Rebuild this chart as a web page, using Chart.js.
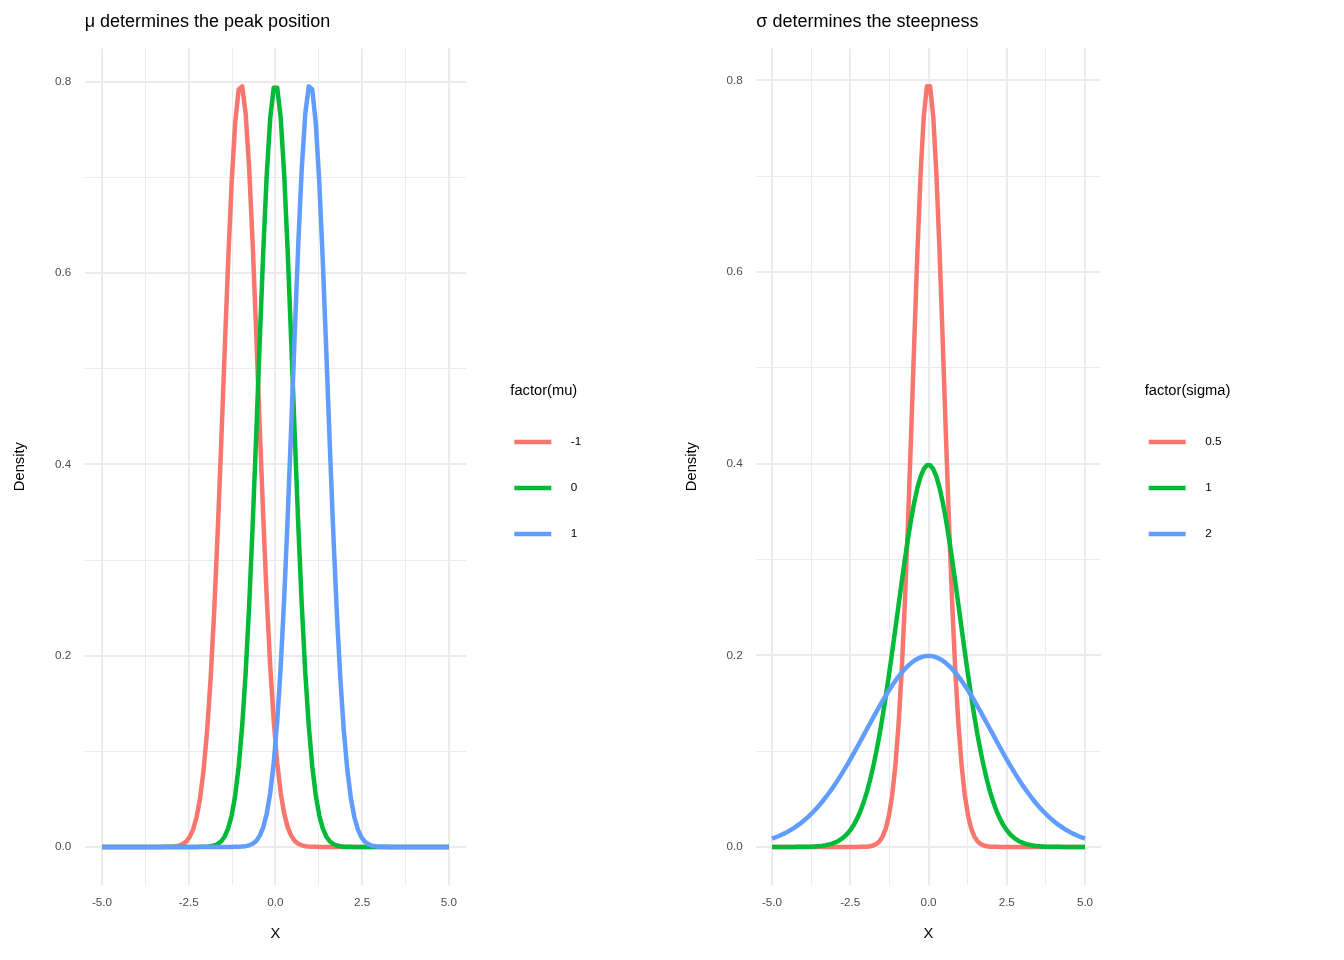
<!DOCTYPE html>
<html>
<head>
<meta charset="utf-8">
<script src="https://cdn.jsdelivr.net/npm/chart.js@4"></script>
<style>
  html, body { margin: 0; padding: 0; background: #fff; }
  .panel { position: absolute; top: 0; width: 672px; height: 960px; }
  #leftPanel { left: 0; }
  #rightPanel { left: 672px; }
</style>
</head>
<body>
<div class="panel" id="leftPanel"><canvas id="muChart" width="672" height="960"></canvas></div>
<div class="panel" id="rightPanel"><canvas id="sigmaChart" width="672" height="960"></canvas></div>
<script>
// x grid shared by every curve (100 points from -5 to 5)
const xs = [
  -5.0000, -4.8990, -4.7980, -4.6970, -4.5960, -4.4949, -4.3939, -4.2929, -4.1919, -4.0909,
  -3.9899, -3.8889, -3.7879, -3.6869, -3.5859, -3.4848, -3.3838, -3.2828, -3.1818, -3.0808,
  -2.9798, -2.8788, -2.7778, -2.6768, -2.5758, -2.4747, -2.3737, -2.2727, -2.1717, -2.0707,
  -1.9697, -1.8687, -1.7677, -1.6667, -1.5657, -1.4646, -1.3636, -1.2626, -1.1616, -1.0606,
  -0.9596, -0.8586, -0.7576, -0.6566, -0.5556, -0.4545, -0.3535, -0.2525, -0.1515, -0.0505,
  0.0505, 0.1515, 0.2525, 0.3535, 0.4545, 0.5556, 0.6566, 0.7576, 0.8586, 0.9596,
  1.0606, 1.1616, 1.2626, 1.3636, 1.4646, 1.5657, 1.6667, 1.7677, 1.8687, 1.9697,
  2.0707, 2.1717, 2.2727, 2.3737, 2.4747, 2.5758, 2.6768, 2.7778, 2.8788, 2.9798,
  3.0808, 3.1818, 3.2828, 3.3838, 3.4848, 3.5859, 3.6869, 3.7879, 3.8889, 3.9899,
  4.0909, 4.1919, 4.2929, 4.3939, 4.4949, 4.5960, 4.6970, 4.7980, 4.8990, 5.0000
];

// left panel: sigma = 0.5, mu = -1 / 0 / 1
const muLabels = ["-1", "0", "1"];
const muMinus1 = [
  0, 0, 0, 0, 0, 0, 0, 0, 0, 0,
  0, 0, 0, 0, 0, 0, 0, 0, 0.0001, 0.0001,
  0.0003, 0.0007, 0.0014, 0.0029, 0.0056, 0.0103, 0.0183, 0.0313, 0.0512, 0.0806,
  0.1217, 0.1764, 0.2455, 0.3280, 0.4207, 0.5182, 0.6125, 0.6951, 0.7573, 0.7920,
  0.7953, 0.7666, 0.7094, 0.6302, 0.5375, 0.4400, 0.3459, 0.2610, 0.1890, 0.1315,
  0.0878, 0.0563, 0.0346, 0.0204, 0.0116, 0.0063, 0.0033, 0.0017, 0.0008, 0.0004,
  0.0002, 0.0001, 0, 0, 0, 0, 0, 0, 0, 0,
  0, 0, 0, 0, 0, 0, 0, 0, 0, 0,
  0, 0, 0, 0, 0, 0, 0, 0, 0, 0,
  0, 0, 0, 0, 0, 0, 0, 0, 0, 0
];
const mu0 = [
  0, 0, 0, 0, 0, 0, 0, 0, 0, 0,
  0, 0, 0, 0, 0, 0, 0, 0, 0, 0,
  0, 0, 0, 0, 0, 0, 0, 0, 0.0001, 0.0002,
  0.0003, 0.0007, 0.0015, 0.0031, 0.0059, 0.0109, 0.0194, 0.0329, 0.0537, 0.0841,
  0.1265, 0.1826, 0.2532, 0.3369, 0.4304, 0.5278, 0.6214, 0.7023, 0.7621, 0.7938,
  0.7938, 0.7621, 0.7023, 0.6214, 0.5278, 0.4304, 0.3369, 0.2532, 0.1826, 0.1265,
  0.0841, 0.0537, 0.0329, 0.0194, 0.0109, 0.0059, 0.0031, 0.0015, 0.0007, 0.0003,
  0.0002, 0.0001, 0, 0, 0, 0, 0, 0, 0, 0,
  0, 0, 0, 0, 0, 0, 0, 0, 0, 0,
  0, 0, 0, 0, 0, 0, 0, 0, 0, 0
];
const mu1 = [
  0, 0, 0, 0, 0, 0, 0, 0, 0, 0,
  0, 0, 0, 0, 0, 0, 0, 0, 0, 0,
  0, 0, 0, 0, 0, 0, 0, 0, 0, 0,
  0, 0, 0, 0, 0, 0, 0, 0, 0.0001, 0.0002,
  0.0004, 0.0008, 0.0017, 0.0033, 0.0063, 0.0116, 0.0204, 0.0346, 0.0563, 0.0878,
  0.1315, 0.1890, 0.2610, 0.3459, 0.4400, 0.5375, 0.6302, 0.7094, 0.7666, 0.7953,
  0.7920, 0.7573, 0.6951, 0.6125, 0.5182, 0.4207, 0.3280, 0.2455, 0.1764, 0.1217,
  0.0806, 0.0512, 0.0313, 0.0183, 0.0103, 0.0056, 0.0029, 0.0014, 0.0007, 0.0003,
  0.0001, 0.0001, 0, 0, 0, 0, 0, 0, 0, 0,
  0, 0, 0, 0, 0, 0, 0, 0, 0, 0
];

// right panel: mu = 0, sigma = 0.5 / 1 / 2
const sigmaLabels = ["0.5", "1", "2"];
const sigmaHalf = [
  0, 0, 0, 0, 0, 0, 0, 0, 0, 0,
  0, 0, 0, 0, 0, 0, 0, 0, 0, 0,
  0, 0, 0, 0, 0, 0, 0, 0, 0.0001, 0.0002,
  0.0003, 0.0007, 0.0015, 0.0031, 0.0059, 0.0109, 0.0194, 0.0329, 0.0537, 0.0841,
  0.1265, 0.1826, 0.2532, 0.3369, 0.4304, 0.5278, 0.6214, 0.7023, 0.7621, 0.7938,
  0.7938, 0.7621, 0.7023, 0.6214, 0.5278, 0.4304, 0.3369, 0.2532, 0.1826, 0.1265,
  0.0841, 0.0537, 0.0329, 0.0194, 0.0109, 0.0059, 0.0031, 0.0015, 0.0007, 0.0003,
  0.0002, 0.0001, 0, 0, 0, 0, 0, 0, 0, 0,
  0, 0, 0, 0, 0, 0, 0, 0, 0, 0,
  0, 0, 0, 0, 0, 0, 0, 0, 0, 0
];
const sigma1 = [
  0, 0, 0, 0, 0, 0, 0, 0, 0.0001, 0.0001,
  0.0001, 0.0002, 0.0003, 0.0004, 0.0006, 0.0009, 0.0013, 0.0018, 0.0025, 0.0035,
  0.0047, 0.0063, 0.0084, 0.0111, 0.0145, 0.0187, 0.0238, 0.0301, 0.0377, 0.0468,
  0.0573, 0.0696, 0.0836, 0.0995, 0.1171, 0.1365, 0.1574, 0.1798, 0.2032, 0.2273,
  0.2517, 0.2760, 0.2994, 0.3216, 0.3419, 0.3598, 0.3748, 0.3864, 0.3944, 0.3984,
  0.3984, 0.3944, 0.3864, 0.3748, 0.3598, 0.3419, 0.3216, 0.2994, 0.2760, 0.2517,
  0.2273, 0.2032, 0.1798, 0.1574, 0.1365, 0.1171, 0.0995, 0.0836, 0.0696, 0.0573,
  0.0468, 0.0377, 0.0301, 0.0238, 0.0187, 0.0145, 0.0111, 0.0084, 0.0063, 0.0047,
  0.0035, 0.0025, 0.0018, 0.0013, 0.0009, 0.0006, 0.0004, 0.0003, 0.0002, 0.0001,
  0.0001, 0.0001, 0, 0, 0, 0, 0, 0, 0, 0
];
const sigma2 = [
  0.0088, 0.0099, 0.0112, 0.0127, 0.0142, 0.0160, 0.0179, 0.0199, 0.0222, 0.0246,
  0.0273, 0.0301, 0.0332, 0.0365, 0.0400, 0.0437, 0.0477, 0.0519, 0.0563, 0.0609,
  0.0657, 0.0708, 0.0760, 0.0815, 0.0870, 0.0928, 0.0986, 0.1046, 0.1106, 0.1167,
  0.1228, 0.1289, 0.1350, 0.1410, 0.1468, 0.1526, 0.1581, 0.1634, 0.1685, 0.1733,
  0.1778, 0.1819, 0.1857, 0.1890, 0.1919, 0.1944, 0.1964, 0.1979, 0.1989, 0.1994,
  0.1994, 0.1989, 0.1979, 0.1964, 0.1944, 0.1919, 0.1890, 0.1857, 0.1819, 0.1778,
  0.1733, 0.1685, 0.1634, 0.1581, 0.1526, 0.1468, 0.1410, 0.1350, 0.1289, 0.1228,
  0.1167, 0.1106, 0.1046, 0.0986, 0.0928, 0.0870, 0.0815, 0.0760, 0.0708, 0.0657,
  0.0609, 0.0563, 0.0519, 0.0477, 0.0437, 0.0400, 0.0365, 0.0332, 0.0301, 0.0273,
  0.0246, 0.0222, 0.0199, 0.0179, 0.0160, 0.0142, 0.0127, 0.0112, 0.0099, 0.0088
];

// axes
const xMajorTicks = [-5, -2.5, 0, 2.5, 5];
const xTickLabels = ["-5.0", "-2.5", "0.0", "2.5", "5.0"];
const xMinorTicks = [-3.75, -1.25, 1.25, 3.75];
const yMajorTicks = [0, 0.2, 0.4, 0.6, 0.8];
const yTickLabels = ["0.0", "0.2", "0.4", "0.6", "0.8"];
const yMinorTicks = [0.1, 0.3, 0.5, 0.7];

const FONT = '"Liberation Sans", Arial, sans-serif';
const COLORS = ["#F8766D", "#00BA38", "#619CFF"];
const GRID = "#EBEBEB";

function near(a, b) { return Math.abs(a - b) < 1e-9; }
function isIn(list, v) { return list.some((t) => near(t, v)); }

// title, axis titles and legend drawn the ggplot way
const decor = {
  id: "decor",
  afterDraw(chart, args, opts) {
    const { ctx, chartArea: a } = chart;
    ctx.save();
    ctx.fillStyle = "#000";
    ctx.textAlign = "left";
    ctx.textBaseline = "alphabetic";
    ctx.font = `18px ${FONT}`;
    ctx.fillText(opts.title, a.left, 27);

    ctx.font = `14.7px ${FONT}`;
    ctx.textAlign = "center";
    ctx.textBaseline = "middle";
    ctx.fillText("X", (a.left + a.right) / 2, 934);
    ctx.save();
    ctx.translate(20, (a.top + a.bottom) / 2);
    ctx.rotate(-Math.PI / 2);
    ctx.fillText("Density", 0, 0);
    ctx.restore();

    const lx = a.right + 44;
    ctx.textAlign = "left";
    ctx.fillText(opts.legendTitle, lx, 391);
    ctx.font = `11.7px ${FONT}`;
    opts.labels.forEach((lab, i) => {
      const y = 442 + i * 46;
      ctx.strokeStyle = COLORS[i];
      ctx.lineWidth = 4.7;
      ctx.beginPath();
      ctx.moveTo(a.right + 48, y);
      ctx.lineTo(a.right + 85, y);
      ctx.stroke();
      ctx.fillStyle = "#000";
      ctx.fillText(lab, a.right + 104.5, y);
    });
    ctx.restore();
  }
};

function makePanel(canvasId, series, labels, title, legendTitle, yMin, yMax, rightPad, yWidth) {
  const datasets = series.map((vals, i) => ({
    label: labels[i],
    data: xs.map((x, j) => ({ x, y: vals[j] })),
    borderColor: COLORS[i],
    borderWidth: 4.5,
    borderJoinStyle: "round",
    borderCapStyle: "butt",
    pointRadius: 0,
    tension: 0,
    fill: false,
    order: 3 - i
  }));
  return new Chart(document.getElementById(canvasId), {
    type: "line",
    data: { datasets },
    plugins: [decor],
    options: {
      responsive: false,
      animation: false,
      events: [],
      layout: { padding: { left: 0, top: 48.3, right: rightPad, bottom: 0 } },
      plugins: {
        legend: { display: false },
        tooltip: { enabled: false },
        decor: { title, legendTitle, labels }
      },
      scales: {
        x: {
          type: "linear",
          min: -5.5,
          max: 5.5,
          afterBuildTicks: (s) => {
            s.ticks = [...xMajorTicks, ...xMinorTicks].sort((p, q) => p - q).map((v) => ({ value: v }));
          },
          afterFit: (s) => { s.height = 75; },
          border: { display: false },
          grid: {
            color: GRID,
            drawTicks: false,
            lineWidth: (c) => (isIn(xMajorTicks, c.tick.value) ? 2 : 1)
          },
          ticks: {
            autoSkip: false,
            maxRotation: 0,
            padding: 11,
            color: "#4D4D4D",
            font: { size: 11.7, family: FONT },
            callback: (v) => {
              const k = xMajorTicks.findIndex((t) => near(t, v));
              return k >= 0 ? xTickLabels[k] : "";
            }
          }
        },
        y: {
          type: "linear",
          min: yMin,
          max: yMax,
          afterBuildTicks: (s) => {
            s.ticks = [...yMajorTicks, ...yMinorTicks].sort((p, q) => p - q).map((v) => ({ value: v }));
          },
          afterFit: (s) => { s.width = yWidth; },
          border: { display: false },
          grid: {
            color: GRID,
            drawTicks: false,
            lineWidth: (c) => (isIn(yMajorTicks, c.tick.value) ? 2 : 1)
          },
          ticks: {
            autoSkip: false,
            padding: 13.5,
            color: "#4D4D4D",
            font: { size: 11.7, family: FONT },
            callback: (v) => {
              const k = yMajorTicks.findIndex((t) => near(t, v));
              return k >= 0 ? yTickLabels[k] : "";
            }
          }
        }
      }
    }
  });
}

makePanel("muChart", [muMinus1, mu0, mu1], muLabels,
  "\u03bc determines the peak position", "factor(mu)", -0.0398, 0.8351, 205.7, 84.65);
makePanel("sigmaChart", [sigmaHalf, sigma1, sigma2], sigmaLabels,
  "\u03c3 determines the steepness", "factor(sigma)", -0.0397, 0.8335, 243.35, 84.35);
</script>
</body>
</html>
